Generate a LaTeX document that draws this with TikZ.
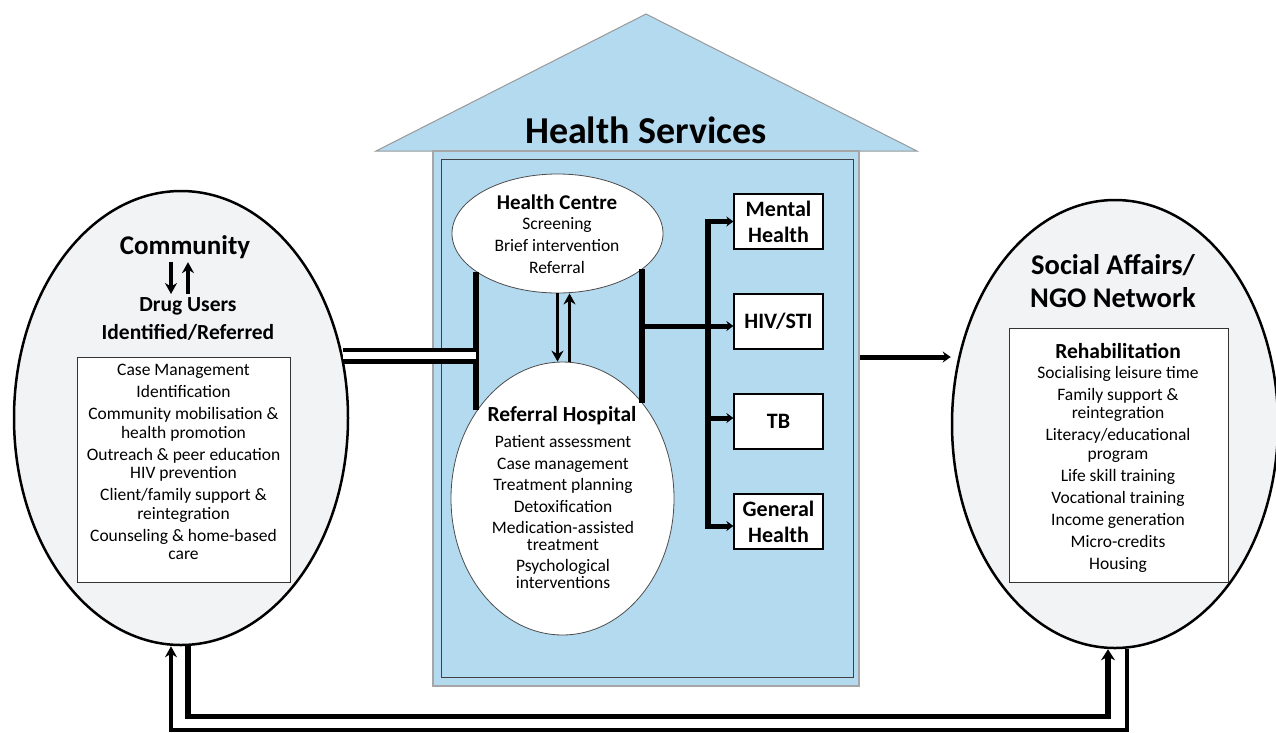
\documentclass[tikz,border=0pt]{standalone}
\usepackage{fontspec}
\setmainfont{Carlito}
\usetikzlibrary{shapes.geometric, arrows.meta}
\definecolor{houseblue}{HTML}{B4DAF0}
\definecolor{ovalgrey}{HTML}{F2F3F5}
\newcommand\itemfont{\fontsize{17.5}{18.5}\selectfont}
\newcommand\servicewidth{89pt}
\newcommand\serviceheight{55pt}
\tikzstyle{roof} = [fill=houseblue, draw=black!40, line width=1pt]
\tikzstyle{housebody} = [rectangle, fill=houseblue, draw=black!35, line width=1.5pt, minimum width=426pt, minimum height=535pt]
\tikzstyle{houseinner} = [rectangle, draw=black!75, line width=1pt, minimum width=412pt, minimum height=518pt]
\tikzstyle{bigoval} = [ellipse, draw=black, line width=2.5pt, fill=ovalgrey]
\tikzstyle{careoval} = [ellipse, draw=black!70, line width=0.8pt, fill=white]
\tikzstyle{listbox} = [rectangle, draw=black!80, line width=1pt, fill=white]
\tikzstyle{service} = [rectangle, draw=black, line width=1.2pt, fill=white, minimum width=\servicewidth, minimum height=\serviceheight, align=center, font=\bfseries\fontsize{22}{26}\selectfont]
\tikzstyle{listing} = [align=center, font=\itemfont]
\tikzstyle{bar} = [line width=6pt]
\tikzstyle{arrow} = [line width=5pt, -{Stealth[length=8pt, width=11pt]}]
\tikzstyle{branch} = [line width=5pt, -{Stealth[length=7pt, width=10pt]}]
\tikzstyle{thinarrow} = [line width=3.8pt, -{Stealth[length=11pt, width=12pt]}]
\tikzstyle{forward} = [line width=5.5pt, -{Stealth[length=11pt, width=14pt]}]
\tikzstyle{backward} = [line width=4pt, -{Stealth[length=11pt, width=12pt]}]
\tikzstyle{dlink} = [line width=4.5pt, double=white, double distance=7pt]

\begin{document}
\begin{tikzpicture}[x=1pt, y=-1pt]
\useasboundingbox (0,0) rectangle (1276,732);

% the house
\draw [roof] (376,151) -- (646,14) -- (917,151) -- cycle;
\node (house) [housebody] at (646,418.5) {};
\node (housein) [houseinner] at (647,418) {};
\node (title) [font=\bfseries\fontsize{38}{44}\selectfont] at (646,130) {Health Services};

% community and social network
\node (community) [bigoval, minimum width=334pt, minimum height=454pt] at (181,418) {};
\node (social) [bigoval, minimum width=326pt, minimum height=448pt] at (1115,424) {};

\node (comtitle) [font=\bfseries\fontsize{27}{32}\selectfont] at (185,247) {Community};
\node (drugs) [align=center, font=\bfseries\fontsize{21.5}{28}\selectfont] at (188,319) {Drug Users\\Identified/Referred};
\node (combox) [listbox, minimum width=213pt, minimum height=225pt] at (183.5,469.5) {};
\node (comlist) [listing] at (183.5,462) {Case Management\\[3.5pt]
  Identification\\[3.5pt]
  Community mobilisation \&\\health promotion\\[3.5pt]
  Outreach \& peer education\\HIV prevention\\[3.5pt]
  Client/family support \&\\reintegration\\[3.5pt]
  Counseling \& home-based\\care};

\node (soctitle) [align=center, font=\bfseries\fontsize{28.5}{33}\selectfont] at (1113,281) {Social Affairs/\\NGO Network};
\node (socbox) [listbox, minimum width=219pt, minimum height=254pt] at (1118.5,455) {};
\node (rehab) [font=\bfseries\fontsize{21.5}{26}\selectfont] at (1118,351) {Rehabilitation};
\node (soclist) [listing] at (1118,469) {Socialising leisure time\\[3.5pt]
  Family support \&\\reintegration\\[3.5pt]
  Literacy/educational\\program\\[3.5pt]
  Life skill training\\[3.5pt]
  Vocational training\\[3.5pt]
  Income generation\\[3.5pt]
  Micro-credits\\[3.5pt]
  Housing};

% health centre and hospital
\node (hc) [careoval, minimum width=211pt, minimum height=119pt] at (557.5,233.5) {};
\node (hctitle) [font=\bfseries\fontsize{21}{25}\selectfont] at (557,202) {Health Centre};
\node (hclist) [align=center, font=\fontsize{17.5}{22}\selectfont] at (557,246) {Screening\\Brief intervention\\Referral};

\node (rh) [careoval, minimum width=223pt, minimum height=273pt] at (562.5,498.5) {};
\node (rhtitle) [font=\bfseries\fontsize{21.5}{26}\selectfont] at (562,416) {Referral Hospital};
\node (rhlist) [align=center, font=\fontsize{17.5}{16.5}\selectfont] at (563,512) {Patient assessment\\[5pt]
  Case management\\[5pt]
  Treatment planning\\[5pt]
  Detoxification\\[5pt]
  Medication-assisted\\treatment\\[5pt]
  Psychological\\interventions};

% services
\node (mental) [service] at (778.5,221.5) {Mental\\Health};
\node (hiv) [service] at (778.5,321.5) {HIV/STI};
\node (tb) [service] at (778.5,421.5) {TB};
\node (general) [service] at (778.5,521.5) {General\\Health};
\coordinate (trunk) at (708,0);

% connectors
\draw [thinarrow] ([xshift=-14pt]comtitle.south) -- ([xshift=-14pt]comtitle.south |- drugs.north);
\draw [thinarrow] ([xshift=3pt]comtitle.south |- drugs.north) -- ([xshift=3pt]comtitle.south);
\draw [thinarrow] (hc.south) -- (hc.south |- rh.north);
\draw [thinarrow] ([xshift=12pt]hc.south |- rh.north) -- ([xshift=12pt]hc.south);

\draw [bar] (hc.205.6) -- (hc.205.6 |- rh.134.3);
\draw [bar] (hc.337.2) -- (hc.337.2 |- rh.50.2);
\draw [dlink] (community.21.4) -- (community.21.4 -| hc.205.6);

\draw [bar] ([yshift=2.5pt]mental.west -| trunk) -- ([yshift=-7pt]general.west -| trunk);
\draw [branch] (mental.west -| trunk) -- (mental.west);
\draw [branch] ([yshift=-4.5pt]hiv.west -| hc.337.2) -- ([yshift=-4.5pt]hiv.west);
\draw [branch] ([yshift=3.5pt]tb.west -| trunk) -- ([yshift=3.5pt]tb.west);
\draw [branch] ([yshift=-4.5pt]general.west -| trunk) -- ([yshift=-4.5pt]general.west);

\draw [arrow] ([yshift=61.5pt]house.east) -- ([yshift=61.5pt]house.east -| social.west);

\draw [forward] ([xshift=7pt]community.south) -- ++(0,70) -| ([xshift=-7pt]social.south);
\draw [backward] ([xshift=12pt]social.south) -- ++(0,81) -| ([xshift=-10pt]community.south);

\end{tikzpicture}
\end{document}
